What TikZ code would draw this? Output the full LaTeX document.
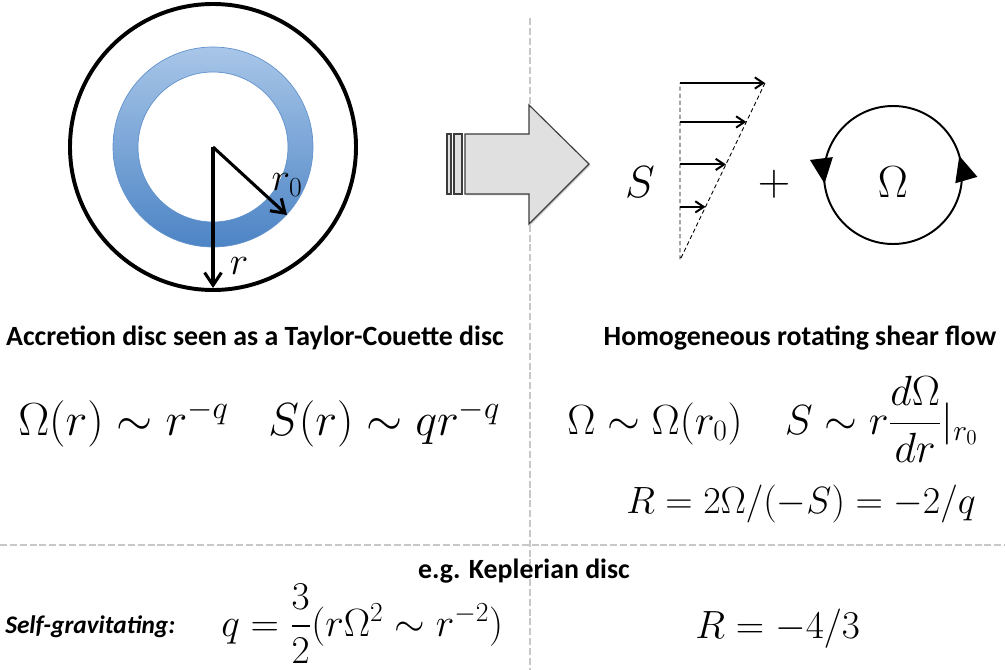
\RequirePackage{fix-cm}
\documentclass[tikz,border=0pt]{standalone}
\usepackage{amsmath}
\usepackage{fontspec}
\newfontfamily\calibri{Carlito}
\usetikzlibrary{arrows.meta, calc, decorations.markings, shadows}
\definecolor{ringTop}  {RGB}{168,198,232}
\definecolor{ringBot}  {RGB}{76,132,197}
\definecolor{ringEdge} {RGB}{98,146,204}
\definecolor{sepGray}  {RGB}{200,200,200}
\definecolor{arrowFill}{RGB}{224,224,224}
\definecolor{arrowEdge}{RGB}{60,60,60}

\begin{document}
\begin{tikzpicture}[x=0.025cm, y=0.025cm,
    divider/.style={sepGray, line width=2pt, dash pattern=on 5pt off 2pt},
    heading/.style={font={\calibri\bfseries\fontsize{19.8}{24}\selectfont}, inner sep=0pt, anchor=base},
    eq/.style={font={\fontsize{#1}{36}\selectfont}, inner sep=0pt, anchor=base west},
    eq/.default=30,
    big/.style={font={\fontsize{32}{38}\selectfont}, inner sep=0pt},
    radius arrow/.style={line width=2.2pt, -{Straight Barb[length=9pt,width=12pt]}},
    flow/.style={line width=1.4pt, -{Straight Barb[length=6pt,width=8pt]}},
    guide/.style={densely dashed, line width=0.6pt}]
    \useasboundingbox (0,-670) rectangle (1005,0);

    % separators
    \draw[divider] (530,-18) -- (530,-670);
    \draw[divider] (0,-545) -- (1005,-545);

    % accretion disc
    \coordinate (c) at (213,-147);
    \draw[line width=2.8pt] (c) circle (143);
    \shade[top color=ringTop, bottom color=ringBot, even odd rule] (c) circle (100) (c) circle (75);
    \draw[ringEdge, line width=0.5pt] (c) circle (100) (c) circle (75);
    \coordinate (rEnd) at (213,-288);
    \coordinate (rZero) at (287,-215);
    \draw[radius arrow] (c) -- (rEnd);
    \draw[radius arrow] (c) -- (rZero);
    \node[big, font={\fontsize{28}{34}\selectfont}] (rLab) at (239,-266) {$r$};
    \node[big, font={\fontsize{28}{34}\selectfont}] (rZeroLab) at (287,-185) {$r_0$};

    % big arrow
    \draw[fill=arrowFill, draw=arrowEdge, line width=0.8pt,
          drop shadow={opacity=0.35, shadow xshift=1pt, shadow yshift=-1pt}]
        (447,-134) rectangle (451,-194);
    \draw[fill=arrowFill, draw=arrowEdge, line width=0.8pt,
          drop shadow={opacity=0.35, shadow xshift=1pt, shadow yshift=-1pt}]
        (454,-134) rectangle (462,-194);
    \draw[fill=arrowFill, draw=arrowEdge, line width=0.8pt,
          drop shadow={opacity=0.35, shadow xshift=1pt, shadow yshift=-1pt}]
        (465,-134) -- (529,-134) -- (529,-105) -- (589,-164)
        -- (529,-224) -- (529,-194) -- (465,-194) -- cycle;

    % shear profile
    \coordinate (top) at (680,-83);
    \coordinate (tip) at (765,-83);
    \coordinate (base) at (680,-260);
    \draw[guide] (tip) -- (base) -- (top);
    \draw[flow] (top) -- (tip);
    \foreach \t in {0.3,0.54,0.78}
        \draw[flow] ($(base)!\t!(top)$) -- ($(base)!\t!(tip)$);
    \node[big] (sLab) at (640,-182) {$S$};
    \node[big] (plus) at (774,-184) {$+$};

    % rotation
    \coordinate (rot) at (893,-175);
    \draw[line width=1.4pt, postaction={decorate},
          decoration={markings,
            mark=at position 0.045 with {\arrow{Triangle[length=18pt,width=16pt]}},
            mark=at position 0.52 with {\arrow{Triangle[length=18pt,width=16pt]}}}]
        (rot) circle (69);
    \node[big] (omegaLab) at (893,-182) {$\Omega$};

    % titles
    \node[heading] (accTitle) at (255,-345) {Accretion disc seen as a Taylor-Couette disc};
    \node[heading] (shearTitle) at (800,-345) {Homogeneous rotating shear flow};
    \node[heading] (kepTitle) at (524,-578) {e.g. Keplerian disc};
    \node[heading, anchor=base west, font={\calibri\bfseries\itshape\fontsize{18}{22}\selectfont}]
        (selfGrav) at (5,-633) {Self-gravitating:};

    % laws
    \node[eq=33] (omegaLaw) at (18,-435) {$\Omega(r) \sim r^{-q}$};
    \node[eq=33] (shearLaw) at (268,-435) {$S(r) \sim q r^{-q}$};
    \node[eq] (localLaw) at (567,-434) {$\Omega \sim \Omega(r_0) \quad S \sim r\dfrac{d\Omega}{dr}|_{r_0}$};
    \node[eq=27] (ratio) at (626,-513) {$R = 2\Omega/(-S) = -2/q$};
    \node[eq=28] (kepQ) at (221,-636) {$q = \dfrac{3}{2}(r\Omega^2 \sim r^{-2})$};
    \node[eq=28] (kepR) at (695,-638) {$R = -4/3$};
\end{tikzpicture}
\end{document}
